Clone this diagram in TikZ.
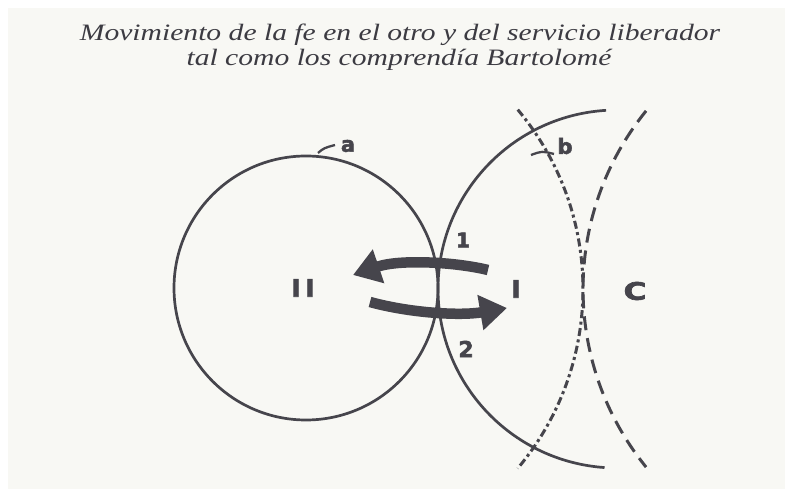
\documentclass[tikz,border=0pt]{standalone}
\usepackage{fontspec}
\setmainfont{Liberation Serif}
\newfontfamily\labfont[BoldFeatures={FakeBold=2.5}]{DejaVu Sans}
\newfontfamily\titlefont[FakeStretch=1.26]{Liberation Serif}
\usetikzlibrary{arrows.meta}
\definecolor{ink}{HTML}{46454C}
\definecolor{titleink}{HTML}{3C3B42}
\definecolor{paper}{HTML}{F8F8F4}
\tikzset{
  solidline/.style={draw=ink, line width=2.7pt},
  dashdotline/.style={draw=ink, line width=3pt, dash pattern=on 8pt off 3.5pt on 3pt off 3.5pt},
  dashline/.style={draw=ink, line width=3pt, dash pattern=on 14pt off 8pt},
  bigarrow/.style={draw=ink, line width=10.5pt, line cap=butt, -{Triangle[length=27pt,width=34pt]}},
  lab/.style={text=ink, font=\labfont\bfseries, inner sep=0pt},
  tick/.style={draw=ink, line width=2.3pt},
  titletext/.style={text=titleink, font=\titlefont\itshape\fontsize{23.5}{26}\selectfont, inner sep=0pt, anchor=base}
}
\begin{document}
\begin{tikzpicture}[x=1pt,y=1pt]
\useasboundingbox (0,0) rectangle (785,489);
\fill[white] (0,0) rectangle (785,489);
\fill[paper] (8,0) rectangle (785,481);
% title
\node[titletext] (t1) at (400,448) {Movimiento de la fe en el otro y del servicio liberador};
\node[titletext] (t2) at (399,423) {tal como los comprendía Bartolomé};
% circles
\coordinate (cII) at (306,201);
\coordinate (cI) at (617,200);
\coordinate (cB) at (304,200);
\coordinate (cC) at (866,200);
\draw[solidline] (cII) circle[radius=132];
\draw[solidline] ([shift={(93.5:179)}]cI) arc[start angle=93.5, end angle=266, radius=179];
\draw[dashdotline] ([shift={(40:279)}]cB) arc[start angle=40, end angle=-40, radius=279];
\draw[dashline] ([shift={(141:283)}]cC) arc[start angle=141, end angle=219, radius=283];
% arrows
\coordinate (a1s) at (488,219);
\coordinate (a1e) at (353,214);
\coordinate (a2s) at (370,187);
\coordinate (a2e) at (507,181);
\draw[bigarrow] (a1s) .. controls (455,227) and (400,230) .. (a1e);
\draw[bigarrow] (a2s) .. controls (410,176) and (460,173) .. (a2e);
% ticks
\coordinate (ta1) at (318,336);
\coordinate (ta2) at (335,344);
\coordinate (tb1) at (531,334);
\coordinate (tb2) at (554,335);
\draw[tick] (ta1) .. controls (324,341) .. (ta2);
\draw[tick] (tb1) .. controls (542,338) .. (tb2);
% labels
\node[lab, font=\labfont\bfseries\fontsize{21}{21}\selectfont] (la) at (348,343) {a};
\node[lab, font=\labfont\bfseries\fontsize{21}{21}\selectfont] (lb) at (565,343) {b};
\node[lab, font=\labfont\bfseries\fontsize{20}{20}\selectfont] (l1) at (463,249) {1};
\node[lab, font=\labfont\bfseries\fontsize{22}{22}\selectfont] (l2) at (466,140) {2};
\node[lab, font=\labfont\bfseries\fontsize{24}{24}\selectfont] (lI) at (516,200) {I};
\node[lab, font=\labfont\bfseries\fontsize{24}{24}\selectfont] (lII) at (303,201) {I\hspace{5pt}I};
\node[lab, font=\labfont\bfseries\fontsize{24}{24}\selectfont] (lC) at (635,198) {\scalebox{1.3}[1]{C}};
\end{tikzpicture}
\end{document}
